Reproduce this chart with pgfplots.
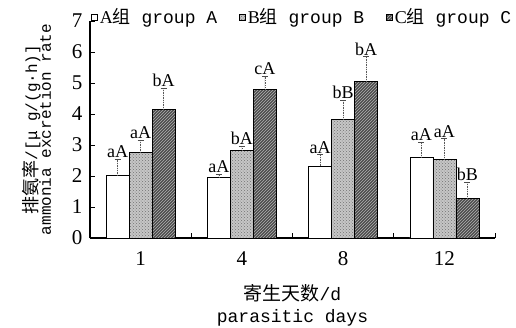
\documentclass[border=0pt]{standalone}
\usepackage{pgfplots}
\pgfplotsset{compat=1.18}
\usepackage{pgfplotstable}
\usepackage{fontspec}
\setmainfont{Liberation Serif}
\newfontfamily\cjk{Noto Sans CJK SC}
\newfontfamily\mono{Liberation Mono}
\usetikzlibrary{patterns}

\pgfplotstableread{
x y err label
0 2.01 0.54 aA
1 1.96 0.10 aA
2 2.32 0.37 aA
3 2.60 0.50 aA
}\tA
\pgfplotstableread{
x y err label
0 2.75 0.41 aA
1 2.83 0.14 bA
2 3.83 0.61 bB
3 2.54 0.66 aA
}\tB
\pgfplotstableread{
x y err label
0 4.15 0.68 bA
1 4.80 0.42 cA
2 5.05 0.80 bA
3 1.28 0.53 bB
}\tC

\begin{document}
\begin{tikzpicture}
\useasboundingbox (-90pt,-89pt) rectangle (426pt,238pt);
\begin{axis}[
  at={(0pt,0pt)}, anchor=south west,
  scale only axis, width=405pt, height=217pt,
  ybar=0pt, bar width=23pt,
  xmin=-0.5, xmax=3.5, ymin=0, ymax=7,
  clip=false,
  axis lines*=left,
  axis line style={line width=1.2pt},
  xtick={0,1,2,3}, xticklabels={1,4,8,12},
  minor xtick={0.5,1.5,2.5,3.5},
  major x tick style={draw=none},
  minor x tick style={line width=1pt, black},
  minor tick length=5pt,
  ytick={0,1,...,7},
  y tick style={line width=1pt, black},
  major tick length=5pt,
  tick align=inside,
  /pgf/number format/assume math mode=true,
  tick label style={font=\fontsize{21}{21}\selectfont},
  xticklabel style={yshift=-10pt},
  yticklabel style={xshift=-4pt},
  xlabel={{\fontsize{19}{19}\selectfont\cjk 寄生天数}{\mono\fontsize{18}{18}\selectfont /d}\\[6pt]{\mono\fontsize{18}{18}\selectfont parasitic days}},
  xlabel style={align=center, yshift=-12pt},
  ylabel={{\fontsize{18}{18}\selectfont\cjk 排氨率}{\mono\fontsize{16}{16}\selectfont /[μ g/(g·h)]}\\[-2pt]{\mono\fontsize{16}{16}\selectfont ammonia excretion rate}},
  ylabel style={align=center, yshift=14pt},
  point meta=explicit symbolic,
  nodes near coords,
  visualization depends on={\thisrow{err} \as \myerr},
  nodes near coords style={font=\fontsize{18}{18}\selectfont, anchor=south, inner sep=1pt, yshift=\myerr*31pt},
  error bars/y dir=plus, error bars/y explicit,
  error bars/error bar style={line width=0.7pt, black!65, densely dotted},
  error bars/error mark options={rotate=90, mark size=3pt, line width=0.7pt, black!70, solid},
  legend columns=3,
  legend style={at={(rel axis cs:0,1)}, anchor=west, yshift=4pt, xshift=1pt, draw=none, fill=none,
    font=\fontsize{18}{18}\selectfont, inner sep=0pt,
    /tikz/every even column/.append style={column sep=20pt}},
  legend image code/.code={\draw[#1] (0pt,-3pt) rectangle (6pt,3pt);},
]
\addplot[draw=black, line width=0.6pt, fill=white] table[x=x,y=y,y error=err,meta=label]{\tA};
\addplot[draw=black, line width=0.6pt, fill=gray!45, postaction={pattern=crosshatch dots, pattern color=gray!90!black}] table[x=x,y=y,y error=err,meta=label]{\tB};
\addplot[draw=black, line width=0.6pt, fill=black!70, postaction={pattern=north east lines, pattern color=gray!60}] table[x=x,y=y,y error=err,meta=label]{\tC};
\legend{{A\cjk 组}{\mono\ group A},{B\cjk 组}{\mono\ group B},{C\cjk 组}{\mono\ group C}}
\end{axis}
\end{tikzpicture}
\end{document}
